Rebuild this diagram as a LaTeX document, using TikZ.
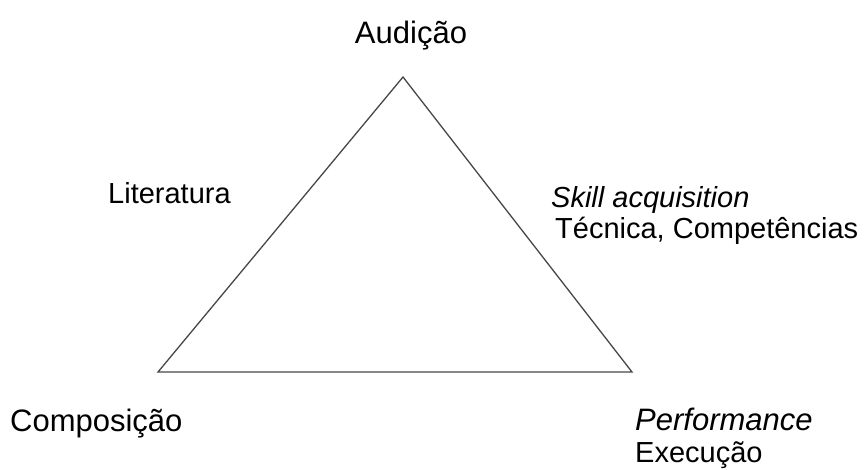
\documentclass[tikz,border=0pt]{standalone}
\usepackage{fontspec}
\setmainfont{Liberation Sans}
\usepackage{tikz}
\usetikzlibrary{positioning,calc}
\definecolor{edgegray}{HTML}{474747}

\begin{document}
\begin{tikzpicture}[x = 1pt, y = -1pt, lbl/.style = {font = \fontsize{31}{32}\selectfont, anchor = base west, inner sep = 0pt}, sublbl/.style = {lbl, font = \fontsize{29}{30}\selectfont}]
    \useasboundingbox (0,0) rectangle (864,469);
    \coordinate (aud) at (403,77);
    \coordinate (comp) at (158,372);
    \coordinate (perf) at (632,372);
    \draw[edgegray, line width = 1.3pt, line join = miter] (aud) -- (comp) -- (perf) -- cycle;
    \node[lbl, anchor = base] (audicao) at (411,43) {Audição};
    \node[sublbl] (literatura) at (108,203) {Literatura};
    \node[sublbl] (skill) at (551,207) {\itshape Skill acquisition};
    \node[sublbl] (tecnica) at (555,238) {Técnica, Competências};
    \node[lbl] (composicao) at (10,431) {Composição};
    \node[lbl] (performance) at (635,430) {\itshape Performance};
    \node[sublbl] (execucao) at (635,462) {Execução};
\end{tikzpicture}
\end{document}
